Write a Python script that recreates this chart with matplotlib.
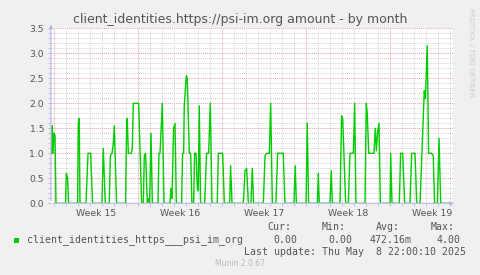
"""Munin month graph: client_identities for psi-im.org, redrawn with matplotlib."""
import matplotlib
matplotlib.use('Agg')
import matplotlib.pyplot as plt
from matplotlib.patches import Rectangle

W, H = 481, 275

# time in days since Mon Apr 7 2025 00:00 (start of week 15), value = amount
TIMES = [-0.22, -0.17, -0.11, -0.03, 0.06, 0.14,
         0.94, 1.0, 1.11, 1.19,
         1.94, 2.0, 2.08, 2.14,
         2.64, 2.81, 3.03, 3.19,
         3.97, 4.08, 4.25,
         4.58, 4.67, 4.81, 4.92, 5.0, 5.19,
         5.94, 6.03, 6.08, 6.17, 6.42, 6.5, 6.58, 7.03, 7.28,
         7.42, 7.5, 7.61, 7.75, 7.86, 7.94, 8.06, 8.17,
         8.64, 8.72, 8.81, 9.0, 9.14,
         9.64, 9.72, 9.81, 9.94, 10.06, 10.17,
         10.61, 10.69, 10.78, 10.83, 11.0, 11.08, 11.25, 11.36, 11.47,
         11.61, 11.69, 11.81, 11.92, 12.0, 12.08, 12.19,
         12.53, 12.69, 12.86, 13.0, 13.14,
         13.58, 13.67, 14.03, 14.17,
         14.61, 14.69, 14.81,
         15.75, 15.89, 16.03, 16.17,
         16.39, 16.5, 16.61,
         17.42, 17.56, 17.7, 17.92, 18.03, 18.17,
         18.47, 18.61, 19.08, 19.22,
         19.97, 20.08, 20.17,
         20.98, 21.08, 21.19,
         21.92, 22.0, 22.08,
         22.97, 23.08, 23.17,
         23.81, 23.94, 24.03, 24.28,
         24.5, 24.64, 24.92, 25.03, 25.14,
         25.89, 26.0, 26.08, 26.2, 26.64, 26.75, 26.84, 26.95, 27.06, 27.17,
         27.98, 28.03, 28.14,
         28.75, 28.86, 29.03, 29.2,
         29.64, 29.78, 30.06, 30.2,
         30.48, 30.83, 30.92, 31.08, 31.19, 31.44, 31.58, 31.69,
         31.92, 32.06, 32.2,
         32.97]
VALUES = [1.0, 1.55, 1.0, 1.4, 1.35, 0,
          0, 0.6, 0.5, 0,
          0, 1.6, 1.7, 0,
          0, 1.0, 1.0, 0,
          0, 1.1, 0,
          0, 0.95, 1.0, 1.2, 1.55, 0,
          0, 1.6, 1.7, 1.0, 1.0, 1.1, 2.0, 2.0, 0,
          0, 0.95, 1.0, 0, 0.1, 0, 1.4, 0,
          0, 1.0, 1.0, 2.0, 0,
          0, 0.3, 0.1, 1.5, 1.6, 0,
          0, 1.0, 1.0, 1.95, 2.55, 2.5, 1.0, 1.0, 0,
          0, 1.0, 1.0, 0.3, 0.25, 1.95, 0,
          0, 1.0, 1.0, 2.0, 0,
          0, 1.0, 1.0, 0,
          0, 0.75, 0,
          0, 0.65, 0.7, 0,
          0, 0.7, 0,
          0, 0.95, 1.0, 1.0, 2.0, 0,
          0, 1.0, 1.0, 0,
          0, 0.75, 0,
          0, 1.6, 0,
          0, 0.6, 0,
          0, 0.65, 0,
          0, 1.75, 1.7, 0,
          0, 1.0, 1.0, 2.0, 0,
          0, 2.0, 1.8, 1.0, 1.0, 1.5, 1.05, 1.45, 1.6, 0,
          0, 1.0, 0,
          0, 1.0, 1.0, 0,
          0, 1.0, 1.0, 0,
          0, 2.25, 2.1, 3.15, 1.0, 1.0, 0.95, 0,
          0, 1.3, 0,
          0]

WEEKS = ['Week 15', 'Week 16', 'Week 17', 'Week 18', 'Week 19']
WEEK_START = [0, 7, 14, 21, 28]
X_MIN, X_MAX = -0.275, 33.225
Y_MAX = 3.5

SERIES = 'client_identities_https___psi_im_org'
STAT_HEAD = ['Cur:', 'Min:', 'Avg:', 'Max:']
STAT_VALS = ['0.00', '0.00', '472.16m', '4.00']
LAST_UPDATE = 'Last update: Thu May  8 22:00:10 2025'

GREEN = '#00cc00'
AXIS_C = '#b8b8e8'
TXT = '#555555'

fig = plt.figure(figsize=(W / 100, H / 100), dpi=100, facecolor='#f0f0f0')
# plot area in pixels: x 51..453, y 28.3..203.3
ax = fig.add_axes([51 / W, (H - 203.3) / H, 402 / W, 175 / H])
ax.set_facecolor('white')
ax.set_xlim(X_MIN, X_MAX); ax.set_ylim(0, Y_MAX)

dots = (0, (1, 1))
# minor grid
for d in range(0, 34):
    if d % 7:
        ax.axvline(d, color='#d4d4d4', lw=0.7, ls=dots, zorder=0)
for i in range(1, 36):
    if i % 5:
        ax.axhline(i / 10, color='#d4d4d4', lw=0.7, ls=dots, zorder=0)
# major grid
for d in WEEK_START:
    ax.axvline(d, color='#f0a0a0', lw=0.7, ls=dots, zorder=1)
for i in range(1, 8):
    ax.axhline(i / 2, color='#f0a0a0', lw=0.7, ls=dots, zorder=1)

ax.plot(TIMES, VALUES, color=GREEN, lw=1.0, zorder=3)

for s in ax.spines.values():
    s.set_visible(False)
ax.annotate('', xy=(0, 1.038), xytext=(0, 0), xycoords='axes fraction',
            arrowprops=dict(arrowstyle='-|>', color=AXIS_C, lw=0.8, mutation_scale=6))
ax.annotate('', xy=(1.01, 0), xytext=(0, 0), xycoords='axes fraction',
            arrowprops=dict(arrowstyle='-|>', color=AXIS_C, lw=0.8, mutation_scale=6))

ax.set_yticks([i / 2 for i in range(8)])
ax.set_yticklabels(['%.1f' % (i / 2) for i in range(8)])
ax.set_yticks([i / 10 for i in range(36)], minor=True)
ax.set_xticks([w + 3.5 for w in WEEK_START])
ax.set_xticklabels(WEEKS)
ax.set_xticks(range(0, 34), minor=True)
ax.tick_params(axis='both', which='major', labelsize=6.7, labelcolor=TXT, color=AXIS_C, length=2, width=0.7, pad=3)
ax.tick_params(axis='x', which='major', length=0, pad=4)
ax.tick_params(axis='both', which='minor', color=AXIS_C, length=2, width=0.6)

def px(x, y):
    return x / W, 1 - y / H

fig.text(*px(240, 19), 'client_identities.https://psi-im.org amount - by month',
         ha='center', va='center', fontsize=9, color='#555555')
fig.text(*px(471, 52), 'RRDTOOL / TOBI OETIKER', rotation=270, ha='center', va='center',
         fontsize=5, color='#cccccc')

mono = dict(family='DejaVu Sans Mono', fontsize=7.1, color=TXT, va='center')
fig.patches.append(Rectangle(px(14, 242.7), 5.3 / W, 5 / H, transform=fig.transFigure,
                             facecolor=GREEN, edgecolor='none'))
fig.text(*px(26.7, 240), SERIES, **mono)
for xh, lab in zip([267, 322, 376, 431], STAT_HEAD):
    fig.text(*px(xh, 227.3), lab, **mono)
for xv, val in zip([273, 328, 370, 437], STAT_VALS):
    fig.text(*px(xv, 240), val, **mono)
fig.text(*px(466, 252.3), LAST_UPDATE, ha='right', **mono)
fig.text(*px(240, 264), 'Munin 2.0.67', ha='center', va='center', fontsize=5.5, color='#bbbbbb')

fig.savefig('out.png', dpi=100, facecolor=fig.get_facecolor())
